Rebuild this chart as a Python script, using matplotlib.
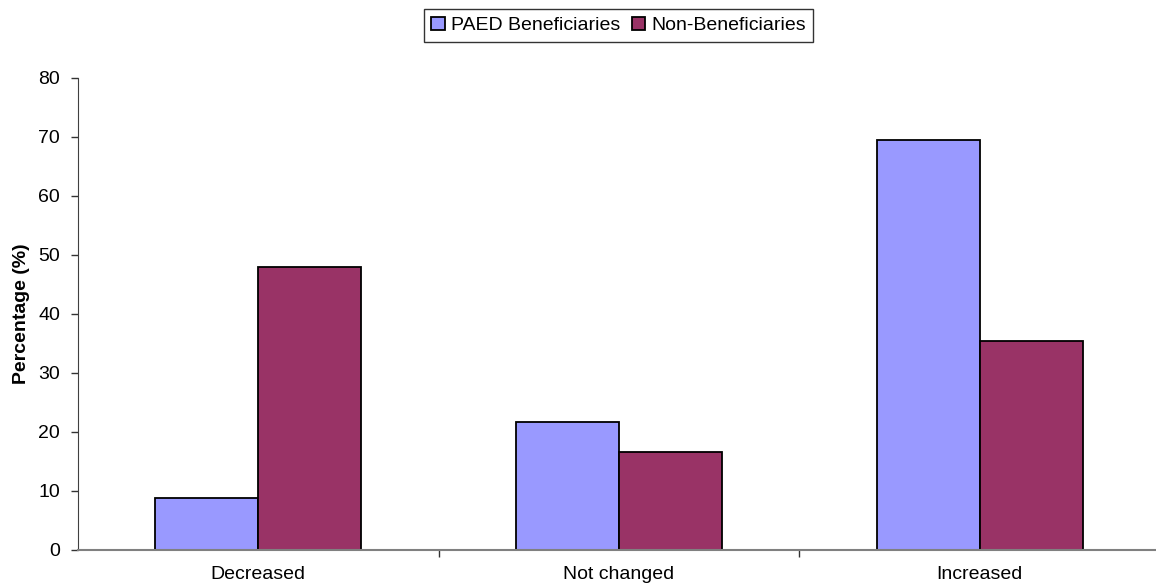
import numpy as np
import matplotlib
matplotlib.use('Agg')
import matplotlib.pyplot as plt

plt.rcParams['font.family'] = ['Liberation Sans', 'DejaVu Sans']

# data
categories = ['Decreased', 'Not changed', 'Increased']
paed = [8.7, 21.7, 69.4]
non_ben = [48.0, 16.5, 35.3]
series_names = ['PAED Beneficiaries', 'Non-Beneficiaries']
colors = ['#9999FF', '#993366']

fig = plt.figure(figsize=(11.56, 5.88), dpi=100)
ax = fig.add_axes([78 / 1156, 38.5 / 588, 1082 / 1156, 471.5 / 588])

x = np.arange(len(categories))
w = 1 / 3.5
ax.bar(x - w / 2, paed, w, color=colors[0], edgecolor='black', linewidth=1.3, label=series_names[0])
ax.bar(x + w / 2, non_ben, w, color=colors[1], edgecolor='black', linewidth=1.3, label=series_names[1])

ax.set_xlim(-0.5, 2.5)
ax.set_ylim(0, 80)
ax.set_yticks(range(0, 81, 10))

# category ticks between the groups, labels centred on the groups
ax.set_xticks([0.5, 1.5, 2.5])
ax.set_xticklabels([])
ax.set_xticks(x, minor=True)
ax.set_xticklabels(categories, minor=True)
ax.tick_params(axis='x', which='minor', length=0, pad=12, labelsize=14)
ax.tick_params(axis='x', which='major', length=5, width=1, color='#333333')
ax.tick_params(axis='y', length=5, width=1, pad=8, labelsize=14, color='#333333')

ax.spines['top'].set_visible(False)
ax.spines['right'].set_visible(False)
ax.spines['left'].set_color('#404040')
ax.spines['bottom'].set_color('#808080')
ax.spines['bottom'].set_linewidth(1.5)

ax.set_ylabel('Percentage (%)', fontsize=14, fontweight='bold')
ax.yaxis.set_label_coords(-0.044, 0.5)

leg = fig.legend(loc='center', bbox_to_anchor=(618.5 / 1156, 1 - 25.5 / 588), ncol=2,
                 fontsize=14, frameon=True, fancybox=False, edgecolor='black',
                 handlelength=0.7, handleheight=0.7, handletextpad=0.3,
                 columnspacing=0.6, borderpad=0.4)
leg.get_frame().set_linewidth(1.0)

fig.savefig('out.png', dpi=100)
